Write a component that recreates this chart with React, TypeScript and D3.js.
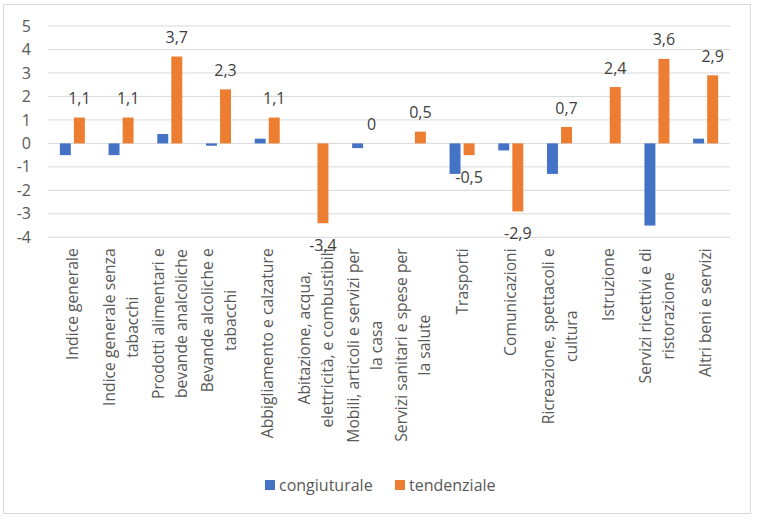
import React from 'react';
import * as d3 from 'd3';

const categories = [
  'Indice generale',
  'Indice generale senza\ntabacchi',
  'Prodotti alimentari e\nbevande analcoliche',
  'Bevande alcoliche e\ntabacchi',
  'Abbigliamento e calzature',
  'Abitazione, acqua,\nelettricità, e combustibili',
  'Mobili, articoli e servizi per\nla casa',
  'Servizi sanitari e spese per\nla salute',
  'Trasporti',
  'Comunicazioni',
  'Ricreazione, spettacoli e\ncultura',
  'Istruzione',
  'Servizi ricettivi e di\nristorazione',
  'Altri beni e servizi',
];

const congiunturale = [-0.5, -0.5, 0.4, -0.1, 0.2, 0, -0.2, 0, -1.3, -0.3, -1.3, 0, -3.5, 0.2];
const tendenziale = [1.1, 1.1, 3.7, 2.3, 1.1, -3.4, 0, 0.5, -0.5, -2.9, 0.7, 2.4, 3.6, 2.9];

const seriesNames = ['congiuturale', 'tendenziale'];
const seriesColors = ['#4472c4', '#ed7d31'];
const yTicks = [5, 4, 3, 2, 1, 0, -1, -2, -3, -4];

const width = 757;
const height = 524;
const FONT = '"Open Sans", sans-serif';

const App: React.FC = () => {
  const svgRef = React.useRef<SVGSVGElement>(null);

  React.useEffect(() => {
    if (!svgRef.current) return;
    const svg = d3.select(svgRef.current);
    svg.selectAll('*').remove();

    const margin = { top: 26, right: 27, bottom: 286.7, left: 48 };
    const plotW = width - margin.left - margin.right;
    const plotH = height - margin.top - margin.bottom;

    // chart frame
    svg.append('rect')
      .attr('x', 3.5).attr('y', 4.5)
      .attr('width', 747).attr('height', 509)
      .attr('fill', '#fff').attr('stroke', '#d9d9d9');

    const g = svg.append('g').attr('transform', `translate(${margin.left},${margin.top})`);

    const x0 = d3.scaleBand<number>()
      .domain(d3.range(categories.length))
      .range([0, plotW]);

    const groupW = 25;
    const x1 = d3.scaleBand<number>()
      .domain([0, 1])
      .range([x0.bandwidth() / 2 - groupW / 2, x0.bandwidth() / 2 + groupW / 2])
      .paddingInner(0.22);

    const y = d3.scaleLinear().domain([-4, 5]).range([plotH, 0]);

    // gridlines
    g.append('g').selectAll('line')
      .data(yTicks)
      .enter().append('line')
      .attr('x1', 0).attr('x2', plotW)
      .attr('y1', d => y(d)).attr('y2', d => y(d))
      .attr('stroke', '#d9d9d9').attr('stroke-width', 1);

    // y tick labels
    g.append('g').selectAll('text')
      .data(yTicks)
      .enter().append('text')
      .attr('x', -17).attr('y', d => y(d))
      .attr('dy', '0.35em')
      .attr('text-anchor', 'end')
      .attr('font-family', FONT).attr('font-size', 16)
      .attr('fill', '#595959')
      .text(d => String(d));

    const series = [congiunturale, tendenziale];

    series.forEach((vals, si) => {
      g.append('g').selectAll('rect')
        .data(vals)
        .enter().append('rect')
        .attr('x', (_, i) => (x0(i) || 0) + (x1(si) || 0))
        .attr('y', d => y(Math.max(0, d)))
        .attr('width', x1.bandwidth())
        .attr('height', d => Math.abs(y(d) - y(0)))
        .attr('fill', seriesColors[si]);
    });

    // data labels for tendenziale
    g.append('g').selectAll('text')
      .data(tendenziale)
      .enter().append('text')
      .attr('x', (_, i) => (x0(i) || 0) + (x1(1) || 0) + x1.bandwidth() / 2)
      .attr('y', d => (d >= 0 ? y(d) - 19 : y(d) + 22))
      .attr('dy', '0.35em')
      .attr('text-anchor', 'middle')
      .attr('font-family', FONT).attr('font-size', 16)
      .attr('fill', '#404040')
      .text(d => String(d).replace('.', ','));

    // category labels, rotated
    const lineGap = 23;
    const labelTop = plotH + 11;
    categories.forEach((cat, i) => {
      const lines = cat.split('\n');
      const cx = (x0(i) || 0) + x0.bandwidth() / 2;
      const lg = g.append('g')
        .attr('transform', `translate(${cx},${labelTop}) rotate(-90)`);
      const texts = lines.map((ln, li) =>
        lg.append('text')
          .attr('y', (li - (lines.length - 1) / 2) * lineGap)
          .attr('dy', '0.35em')
          .attr('text-anchor', 'middle')
          .attr('font-family', FONT).attr('font-size', 15.7)
          .attr('fill', '#595959')
          .text(ln)
      );
      const maxW = d3.max(texts, t => (t.node() as SVGTextElement).getComputedTextLength()) || 0;
      texts.forEach(t => t.attr('x', -maxW / 2));
    });

    // legend
    const legend = svg.append('g');
    const legendX = [265, 395];
    seriesNames.forEach((name, si) => {
      legend.append('rect')
        .attr('x', legendX[si]).attr('y', 480)
        .attr('width', 10).attr('height', 10)
        .attr('fill', seriesColors[si]);
      legend.append('text')
        .attr('x', legendX[si] + 14).attr('y', 485)
        .attr('dy', '0.35em')
        .attr('font-family', FONT).attr('font-size', 16)
        .attr('fill', '#595959')
        .text(name);
    });
  }, []);

  return (
    <div style={{ position: 'absolute', left: 0, top: 0 }}>
      <svg ref={svgRef} width={width} height={height} style={{ display: 'block' }} />
    </div>
  );
};

export default App;
